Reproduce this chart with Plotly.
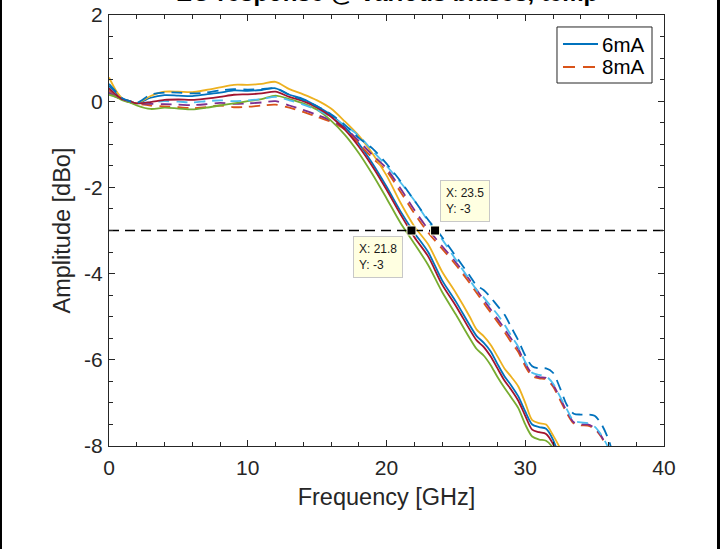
import plotly.graph_objects as go

# ---------------- data ----------------
freq = [0, 0.5, 1, 1.5, 2, 3, 4, 5, 6, 7, 8, 9, 10, 11, 12, 13, 14, 15, 16, 17, 18, 19, 20,
        21, 22, 23, 24, 25, 26, 26.5, 27, 27.5, 28, 28.5, 29, 29.5, 30, 30.5, 31, 31.5,
        32, 32.5, 33, 33.5, 34, 34.5, 35, 35.5, 36, 36.5]

blue_6 = [0.35, 0.2, 0.05, 0.0, -0.05, 0.08, 0.14, 0.13, 0.12, 0.16, 0.2, 0.25, 0.24, 0.26, 0.3,
          0.15, 0.05, -0.12, -0.32, -0.6, -0.98, -1.45, -1.98, -2.55, -3.05, -3.5, -4.15, -4.65,
          -5.2, -5.45, -5.6, -5.8, -6.1, -6.38, -6.6, -6.85, -7.2, -7.5, -7.56, -7.6, -7.85, -8.3,
          None, None, None, None, None, None, None, None]
orange_8 = [0.25, 0.12, 0.03, -0.02, -0.06, -0.1, -0.12, -0.14, -0.16, -0.14, -0.1, -0.14, -0.13,
            -0.1, -0.08, -0.15, -0.25, -0.36, -0.48, -0.66, -0.98, -1.32, -1.62, -2.1, -2.6, -3.05,
            -3.42, -3.8, -4.22, -4.45, -4.68, -4.9, -5.12, -5.35, -5.6, -5.82, -6.15, -6.38, -6.43,
            -6.45, -6.62, -6.93, -7.24, -7.48, -7.52, -7.53, -7.6, -7.8, -8.15, None]
yellow_6 = [0.55, 0.25, 0.05, 0.0, -0.05, 0.12, 0.22, 0.22, 0.21, 0.26, 0.32, 0.38, 0.38, 0.4, 0.45,
            0.28, 0.16, 0.02, -0.17, -0.47, -0.8, -1.22, -1.72, -2.35, -2.9, -3.32, -3.95, -4.45,
            -5.0, -5.3, -5.45, -5.65, -5.92, -6.2, -6.4, -6.62, -7.0, -7.4, -7.47, -7.5, -7.75,
            -8.05, -8.6, None, None, None, None, None, None, None]
purple_8 = [0.2, 0.1, 0.03, -0.02, -0.06, -0.06, -0.07, -0.08, -0.09, -0.07, -0.04, -0.06, -0.05,
            -0.03, 0.0, -0.1, -0.2, -0.32, -0.45, -0.62, -0.92, -1.25, -1.56, -2.02, -2.52, -2.97,
            -3.36, -3.74, -4.15, -4.38, -4.6, -4.83, -5.05, -5.28, -5.52, -5.75, -6.08, -6.33, -6.4,
            -6.42, -6.58, -6.88, -7.2, -7.45, -7.5, -7.5, -7.58, -7.78, -8.1, None]
green_6 = [0.15, 0.1, 0.02, -0.03, -0.1, -0.18, -0.15, -0.17, -0.19, -0.15, -0.1, -0.05, 0.0, 0.05,
           0.13, 0.05, -0.05, -0.2, -0.45, -0.78, -1.2, -1.7, -2.25, -2.82, -3.3, -3.8, -4.42,
           -4.95, -5.5, -5.75, -5.9, -6.12, -6.4, -6.65, -6.88, -7.12, -7.5, -7.78, -7.85, -7.88,
           -8.05, -8.5, None, None, None, None, None, None, None, None]
lightblue_8 = [0.3, 0.15, 0.04, 0.0, -0.05, -0.02, 0.0, -0.01, -0.03, 0.0, 0.02, 0.0, 0.02, 0.05,
               0.1, 0.02, -0.08, -0.2, -0.36, -0.56, -0.8, -1.15, -1.5, -1.88, -2.3, -2.78, -3.2,
               -3.68, -4.15, -4.38, -4.55, -4.75, -4.95, -5.18, -5.45, -5.7, -6.05, -6.3, -6.35,
               -6.38, -6.55, -6.85, -7.15, -7.42, -7.45, -7.47, -7.55, -7.75, -8.05, -8.5]
darkred_6 = [0.3, 0.15, 0.04, 0.0, -0.05, -0.02, 0.03, 0.04, 0.03, 0.06, 0.1, 0.15, 0.16, 0.18, 0.22,
             0.1, 0.0, -0.15, -0.36, -0.66, -1.05, -1.52, -2.05, -2.62, -3.15, -3.6, -4.25, -4.75,
             -5.3, -5.55, -5.7, -5.92, -6.2, -6.48, -6.7, -6.95, -7.3, -7.62, -7.68, -7.72, -7.95,
             -8.35, None, None, None, None, None, None, None, None]
blue_8 = [0.4, 0.22, 0.06, 0.0, -0.04, 0.15, 0.2, 0.2, 0.18, 0.2, 0.25, 0.28, 0.27, 0.28, 0.3, 0.15,
          0.03, -0.12, -0.3, -0.55, -0.85, -1.1, -1.45, -1.85, -2.3, -2.75, -3.15, -3.6, -4.05,
          -4.28, -4.38, -4.55, -4.75, -4.95, -5.25, -5.55, -5.9, -6.15, -6.2, -6.2, -6.3, -6.65,
          -7.05, -7.25, -7.27, -7.27, -7.3, -7.5, -7.85, -8.4]

ref_level = -3
tip_x = [21.8, 23.5]
tip_y = [-3, -3]
legend_names = ["6mA", "8mA"]
x_ticks = [0, 10, 20, 30, 40]
y_ticks = [-8, -6, -4, -2, 0, 2]
y_ticktext = ["-8", "-6", "-4", "-2", "0", "2"]
title_text = "EO response @ various biases, temp"

# ---------------- figure ----------------
FONT = "Liberation Sans, Arial, Helvetica, sans-serif"
AX = "#262626"
DASH = "11px,7px"
BLUE, ORANGE = "#0072BD", "#D95319"

series = [
    (blue_6, BLUE, "solid"),
    (orange_8, ORANGE, DASH),
    (yellow_6, "#EDB120", "solid"),
    (purple_8, "#7E2F8E", DASH),
    (green_6, "#77AC30", "solid"),
    (lightblue_8, "#4DBEEE", DASH),
    (darkred_6, "#A2142F", "solid"),
    (blue_8, BLUE, DASH),
]

fig = go.Figure()
for vals, col, dash in series:
    fig.add_trace(go.Scatter(
        x=freq, y=vals, mode="lines", showlegend=False,
        line=dict(color=col, width=1.8, dash=dash, shape="spline", smoothing=0.8),
        connectgaps=False, hoverinfo="skip"))

fig.add_trace(go.Scatter(
    x=[0, 40], y=[ref_level, ref_level], mode="lines", showlegend=False,
    line=dict(color="black", width=1.3, dash="10px,6px"), hoverinfo="skip"))

fig.add_trace(go.Scatter(
    x=tip_x, y=tip_y, mode="markers", showlegend=False,
    marker=dict(symbol="square", size=9, color="black", line=dict(color="#FFFFE1", width=1)),
    hoverinfo="skip"))

# datatip boxes
tip_font = dict(family=FONT, size=12, color="#1a1a1a")
fig.add_annotation(x=21.19, y=-3.128, xref="x", yref="y", xanchor="right", yanchor="top",
                   showarrow=False, align="left",
                   text=f"X: {tip_x[0]}<br>Y: {tip_y[0]}", font=tip_font,
                   bgcolor="#FFFFE1", bordercolor="#C8C8C8", borderwidth=1, borderpad=5)
fig.add_annotation(x=23.86, y=-2.80, xref="x", yref="y", xanchor="left", yanchor="bottom",
                   showarrow=False, align="left",
                   text=f"X: {tip_x[1]}<br>Y: {tip_y[1]}", font=tip_font,
                   bgcolor="#FFFFE1", bordercolor="#C8C8C8", borderwidth=1, borderpad=5)

# title, mostly clipped by the top edge as in the reference
fig.add_annotation(x=0.5, y=1.0163, xref="paper", yref="paper", xanchor="center", yanchor="bottom",
                   showarrow=False, text=f"<b>{title_text}</b>",
                   font=dict(family=FONT, size=24, color="black"))

# legend box (MATLAB style, top-right inside the axes)
fig.add_shape(type="rect", xref="paper", yref="paper", x0=0.8072, x1=0.9784, y0=0.8422, y1=0.9722,
              fillcolor="white", line=dict(color=AX, width=1), layer="above")
fig.add_shape(type="line", xref="paper", yref="paper", x0=0.8180, x1=0.8811, y0=0.9327, y1=0.9327,
              line=dict(color=BLUE, width=1.8), layer="above")
fig.add_shape(type="line", xref="paper", yref="paper", x0=0.8180, x1=0.8811, y0=0.8794, y1=0.8794,
              line=dict(color=ORANGE, width=1.8, dash="12px,8px"), layer="above")
for name, yy in zip(legend_names, [0.9327, 0.8794]):
    fig.add_annotation(x=0.8865, y=yy, xref="paper", yref="paper", xanchor="left", yanchor="middle",
                       showarrow=False, text=name, borderpad=0,
                       font=dict(family=FONT, size=20.5, color="black"))

# black frame strips at the image edges
fig.add_shape(type="rect", xref="paper", yref="paper", x0=-0.1964, x1=-0.1928, y0=-0.24, y1=1.04,
              fillcolor="black", line=dict(width=0), layer="above")
fig.add_shape(type="rect", xref="paper", yref="paper", x0=1.0955, x1=1.1009, y0=-0.24, y1=1.04,
              fillcolor="black", line=dict(width=0), layer="above")

axis_common = dict(
    showgrid=False, zeroline=False, showline=True, linecolor=AX, linewidth=1,
    mirror="allticks", ticks="inside", ticklen=6, tickwidth=1, tickcolor=AX,
    tickfont=dict(family=FONT, size=21, color=AX), automargin=False,
)

fig.update_xaxes(
    range=[0, 40], tickvals=x_ticks, ticklabelstandoff=3,
    minor=dict(dtick=2, ticks="inside", ticklen=4, tickcolor=AX, showgrid=False),
    title=dict(text="Frequency [GHz]", font=dict(family=FONT, size=23.5, color=AX), standoff=10),
    **axis_common)
fig.update_yaxes(
    range=[-8, 2], tickvals=y_ticks, ticktext=y_ticktext, ticklabelstandoff=1,
    minor=dict(dtick=0.5, ticks="inside", ticklen=4, tickcolor=AX, showgrid=False),
    title=dict(text="Amplitude [dBo]", font=dict(family=FONT, size=23.5, color=AX), standoff=6),
    **axis_common)

fig.update_layout(
    width=724, height=549,
    margin=dict(l=109, r=60, t=15, b=103, autoexpand=False),
    paper_bgcolor="white", plot_bgcolor="white",
    showlegend=False,
)

fig.write_html("out.html", config={"displayModeBar": False},
               post_script="document.body.style.margin='0px';document.body.style.overflow='hidden';")
